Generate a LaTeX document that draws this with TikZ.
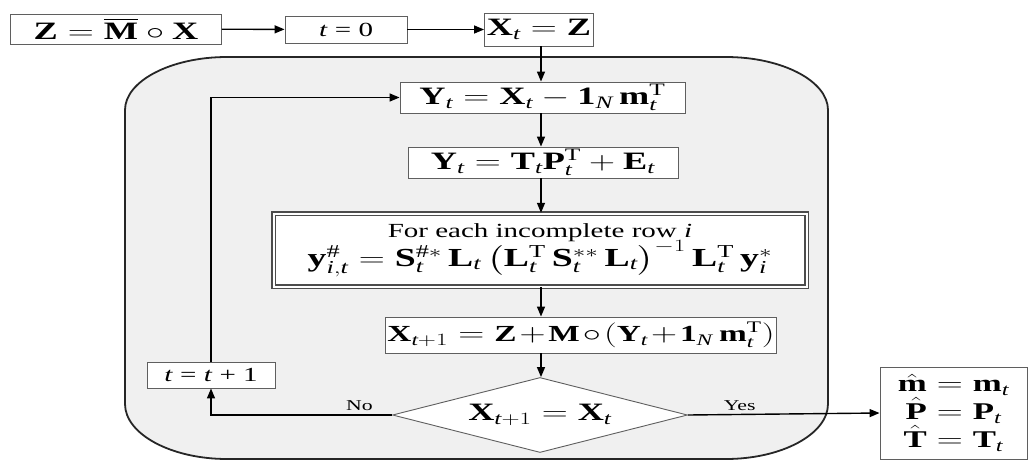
\documentclass[tikz,border=0pt]{standalone}
\usepackage{amsmath}
\usepackage{graphicx}
\usepackage{fontspec}
\setmainfont{Liberation Serif}
\setmathrm{Liberation Serif}
\usetikzlibrary{arrows.meta,positioning,calc,shapes.geometric}
\newcommand{\vb}[1]{\mathbf{#1}}
\newcommand{\tsub}{\mathit{t}}
\newcommand{\Tr}{\mathrm{T}}
\newcommand{\stretchx}[1]{\scalebox{1.45}[1]{#1}}
\definecolor{panelgray}{RGB}{240,240,240}
\definecolor{boxline}{RGB}{95,95,95}
\tikzset{
  stepbox/.style={draw=boxline,fill=white,line width=0.9pt,inner sep=2pt,
    font=\fontsize{25}{28}\selectfont},
  smallbox/.style={stepbox,font=\fontsize{20}{22}\selectfont},
  imputebox/.style={stepbox,double=white,double distance=2pt,line width=1.4pt,
    draw=black!70},
  testnode/.style={diamond,aspect=3.93,draw=boxline,fill=white,line width=0.9pt,
    inner sep=0pt,font=\fontsize{25}{28}\selectfont},
  flowarrow/.style={-{Triangle[length=10pt,width=8pt]},line width=1.4pt},
  panel/.style={draw=black!85,line width=1.8pt,fill=panelgray},
  branch/.style={font=\fontsize{15}{17}\selectfont}
}

\begin{document}
\begin{tikzpicture}[x=1pt,y=-1pt]
  \useasboundingbox (0,0) rectangle (1034,461);
  % iteration panel
  \draw[panel] (125,110) .. controls (125,81) and (171,57) .. (227,57)
    -- (726,57) .. controls (782,57) and (828,81) .. (828,110)
    -- (828,404) .. controls (828,434) and (782,459) .. (726,459)
    -- (227,459) .. controls (171,459) and (125,434) .. (125,404) -- cycle;
  \coordinate (spine) at (541,0);

  \node[stepbox,minimum width=211pt,minimum height=30pt] (zmx) at (116,29)
    {\stretchx{$\vb{Z} = \overline{\vb{M}} \circ \vb{X}$}};
  \node[smallbox,minimum width=122pt,minimum height=27pt] (tzero) at (346,29.5)
    {\stretchx{\textit{t} = 0}};
  \node[stepbox,minimum width=109pt,minimum height=33pt] (xz) at (539,29.5)
    {\stretchx{$\vb{X}_{\tsub} = \vb{Z}$}};
  \node[stepbox,minimum width=285pt,minimum height=31pt] (yone) at (542.5,97.5)
    {\stretchx{$\vb{Y}_{\tsub} = \vb{X}_{\tsub} - \vb{1}_{\mathit{N}}\,\vb{m}_{\tsub}^{\Tr}$}};
  \node[stepbox,minimum width=270pt,minimum height=31pt] (ytwo) at (543,162.5)
    {\stretchx{$\vb{Y}_{\tsub} = \vb{T}_{\tsub}\vb{P}_{\tsub}^{\Tr} + \vb{E}_{\tsub}$}};
  \node[imputebox,minimum width=533pt,minimum height=73pt,align=center] (impute) at (540,250)
    {\stretchx{\fontsize{20}{22}\selectfont For each incomplete row \textit{i}}\\[-2pt]
     \stretchx{\fontsize{26}{28}\selectfont
      $\vb{y}^{\#}_{\mathit{i},\tsub} = \vb{S}^{\#*}_{\tsub}\,\vb{L}_{\tsub}
      \left(\vb{L}^{\Tr}_{\tsub}\,\vb{S}^{**}_{\tsub}\,\vb{L}_{\tsub}\right)^{-1}
      \vb{L}^{\Tr}_{\tsub}\,\vb{y}^{*}_{\mathit{i}}$}};
  \node[stepbox,minimum width=362pt,minimum height=36pt,
    font=\fontsize{23}{27}\selectfont] (xnext) at (581,335)
    {\stretchx{\medmuskip=1.5mu$\vb{X}_{\tsub+1} = \vb{Z} + \vb{M} \circ
      \left(\vb{Y}_{\tsub} + \vb{1}_{\mathit{N}}\,\vb{m}_{\tsub}^{\Tr}\right)$}};
  \node[testnode,minimum width=295pt,minimum height=75pt] (conv) at (540,415)
    {\stretchx{$\vb{X}_{\tsub+1} = \vb{X}_{\tsub}$}};
  \node[smallbox,minimum width=128pt,minimum height=26pt] (tinc) at (211,375)
    {\stretchx{\textit{t} = \textit{t} + 1}};
  \node[stepbox,minimum width=147pt,minimum height=92pt,align=center,
    font=\fontsize{24}{28}\selectfont] (est) at (953.5,413)
    {\stretchx{$\hat{\vb{m}} = \vb{m}_{\tsub}$}\\\stretchx{$\hat{\vb{P}} = \vb{P}_{\tsub}$}\\
     \stretchx{$\hat{\vb{T}} = \vb{T}_{\tsub}$}};

  \draw[flowarrow] (zmx) -- (tzero);
  \draw[flowarrow] (tzero) -- (xz);
  \draw[flowarrow] (xz.south -| spine) -- (yone.north -| spine);
  \draw[flowarrow] (yone.south -| spine) -- (ytwo.north -| spine);
  \draw[flowarrow] (ytwo.south -| spine) -- (impute.north -| spine);
  \draw[flowarrow] (impute.south -| spine) -- (xnext.north -| spine);
  \draw[flowarrow] (xnext.south -| spine) -- (conv.north -| spine);
  \draw[flowarrow] (conv.west) -| node[branch,pos=0.09,above] {\stretchx{No}} (tinc.south);
  \draw[flowarrow] (tinc.north) |- (yone.west);
  \draw[flowarrow] (conv.east) -- node[branch,pos=0.27,above] {\stretchx{Yes}} (est.west);
\end{tikzpicture}
\end{document}
